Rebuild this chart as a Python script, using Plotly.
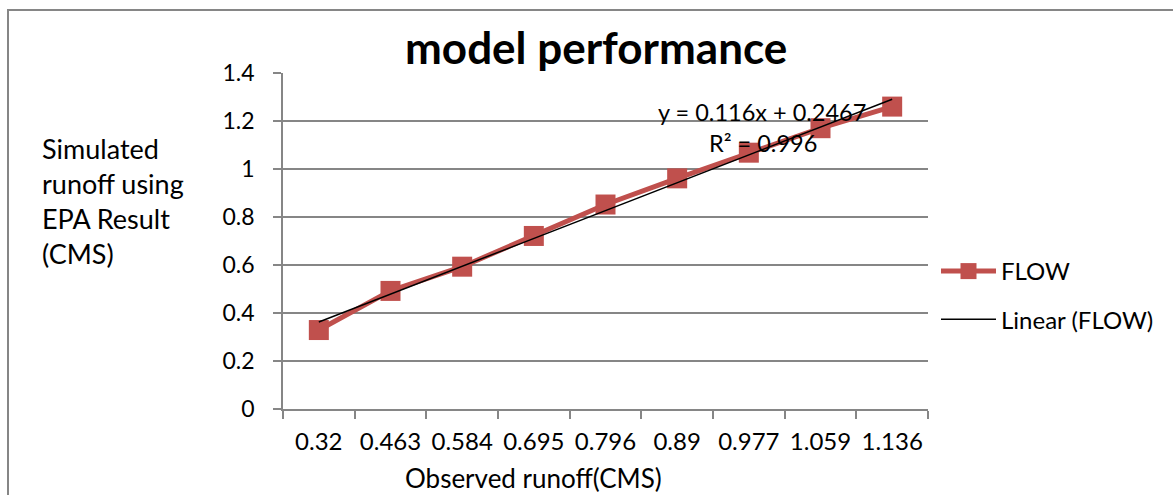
import plotly.graph_objects as go

categories = ["0.32", "0.463", "0.584", "0.695", "0.796", "0.89", "0.977", "1.059", "1.136"]
flow = [0.329, 0.492, 0.593, 0.721, 0.852, 0.961, 1.068, 1.170, 1.260]
trend_slope = 0.116
trend_intercept = 0.2467
r_squared = 0.996

trend_y = [trend_slope * (i + 1) + trend_intercept for i in range(len(categories))]

FONT = "Lato"
RED = "#C0504D"
GREY = "#868686"

fig = go.Figure()
fig.add_trace(go.Scatter(
    x=categories, y=flow, mode="lines+markers", name="FLOW",
    line=dict(color=RED, width=5),
    marker=dict(symbol="square", size=20, color=RED),
    legendgroup="a",
))
fig.add_trace(go.Scatter(
    x=categories, y=trend_y, mode="lines", name="Linear (FLOW)",
    line=dict(color="black", width=1.5),
    legendgroup="b",
))

L, R, T, B = 283, 245, 73, 86
PW = 1173 - L - R
PH = 495 - T - B

def px(x):
    return (x - L) / PW

def py(y):
    return (495 - B - y) / PH

fig.update_layout(
    width=1173, height=495,
    margin=dict(l=L, r=R, t=T, b=B, pad=0),
    paper_bgcolor="white", plot_bgcolor="white",
    font=dict(family=FONT, color="black", size=24),
    showlegend=True,
    legend=dict(x=px(936), y=py(249), xanchor="left", yanchor="top",
                font=dict(size=24), itemwidth=55, tracegroupgap=14,
                traceorder="grouped", bgcolor="rgba(0,0,0,0)"),
    xaxis=dict(type="category", range=[-0.5, 8.5], showgrid=False,
               showline=True, linecolor=GREY, linewidth=1.5,
               ticks="outside", tickson="boundaries", ticklen=8, tickcolor=GREY,
               tickwidth=1.5, ticklabelstandoff=10, tickfont=dict(size=24),
               tickangle=0, zeroline=False),
    yaxis=dict(range=[0, 1.4], dtick=0.2, tick0=0, showgrid=True, gridcolor=GREY,
               gridwidth=1.5, showline=True, linecolor=GREY, linewidth=1.5,
               ticks="outside", ticklen=8, tickcolor=GREY, tickwidth=1.5,
               ticklabelstandoff=14, tickfont=dict(size=23), zeroline=False),
    shapes=[dict(type="rect", xref="paper", yref="paper",
                 x0=px(8), x1=px(1180), y0=py(500), y1=py(10),
                 line=dict(color=GREY, width=2), fillcolor="rgba(0,0,0,0)", layer="below")],
    annotations=[
        dict(text="<b>model performance</b>", xref="paper", yref="paper",
             x=px(596), y=py(47), xanchor="center", yanchor="middle",
             showarrow=False, font=dict(size=44)),
        dict(text="Simulated<br>runoff using<br>EPA Result<br>(CMS)", xref="paper", yref="paper",
             x=px(40), y=py(130), xanchor="left", yanchor="top", align="left",
             showarrow=False, font=dict(size=27)),
        dict(text="Observed runoff(CMS)", xref="paper", yref="paper",
             x=px(533), y=py(478), xanchor="center", yanchor="middle",
             showarrow=False, font=dict(size=26)),
        dict(text=f"y = {trend_slope}x + {trend_intercept}", xref="paper", yref="paper",
             x=px(762), y=py(112), xanchor="center", yanchor="middle",
             showarrow=False, font=dict(size=23.5)),
        dict(text=f"R² = {r_squared}", xref="paper", yref="paper",
             x=px(763), y=py(143), xanchor="center", yanchor="middle",
             showarrow=False, font=dict(size=23.5)),
    ],
)

fig.write_html("out.html")
